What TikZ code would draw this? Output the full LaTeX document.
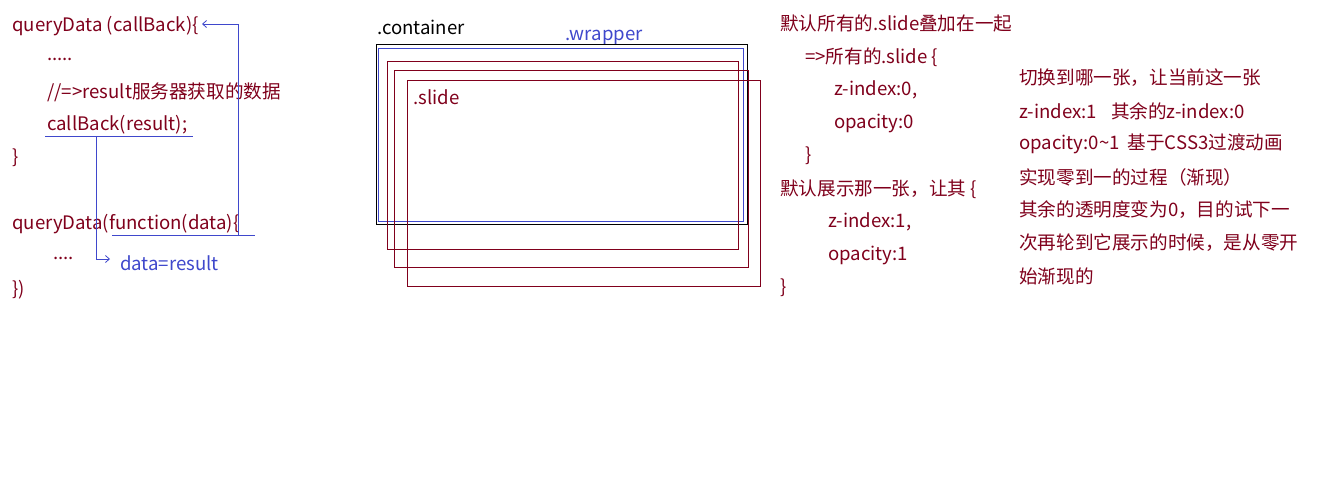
\documentclass[tikz,border=0pt]{standalone}
\usepackage{fontspec}
\setmainfont{Noto Sans CJK SC}
\usetikzlibrary{arrows.meta}
\definecolor{dred}{HTML}{80001C}
\definecolor{cblue}{HTML}{3F48CC}
\tikzset{
  txt/.style={anchor=west,inner sep=0pt,text=dred,font=\fontsize{18.6}{22}\selectfont},
  btxt/.style={txt,text=cblue},
  ktxt/.style={txt,text=black},
  bline/.style={draw=cblue,line width=0.8pt},
  barrow/.style={bline,-{Straight Barb[length=4pt,width=7pt]}},
  redbox/.style={draw=dred,line width=0.9pt},
}
\begin{document}
\begin{tikzpicture}[x=1pt,y=-1pt]
\useasboundingbox[fill=white] (0,0) rectangle (1333,499);
% left column
\node[txt] (q1) at (12,26) {queryData (callBack)\{};
\node[txt] (d1) at (47,59) {.....};
\node[txt] (c1) at (47,92) {//=>result服务器获取的数据};
\node[txt] (cb) at (47,125) {callBack(result);};
\node[txt] (b1) at (12,158) {\}};
\node[txt] (q2) at (12,224) {queryData(function(data)\{};
\node[txt] (d2) at (53,258) {....};
\node[btxt] (dr) at (120,263) {data=result};
\node[txt] (b2) at (12,290) {\})};
% blue connectors
\coordinate (u1a) at (45,136);
\coordinate (u1b) at (193,136);
\coordinate (u2a) at (112,235);
\coordinate (u2b) at (255,235);
\coordinate (v1) at (96.5,136);
\coordinate (v1e) at (110,259);
\coordinate (v2) at (238,235);
\coordinate (v2e) at (202,24);
\draw[bline] (u1a) -- (u1b);
\draw[bline] (u2a) -- (u2b);
\draw[barrow] (v1) |- (v1e);
\draw[barrow] (v2) |- (v2e);
% middle boxes
\node[ktxt] (cont) at (377,27) {.container};
\node[btxt] (wrap) at (565,37) {.wrapper};
\draw[black,line width=0.9pt] (376,44) rectangle (747,224);
\draw[cblue,line width=0.9pt] (378.5,48) rectangle (743,221);
\draw[redbox] (387,61) rectangle (738,249);
\draw[redbox] (394.5,70) rectangle (748,267);
\draw[redbox] (407.5,80.5) rectangle (760,286);
\node[txt] (sl) at (413,97) {.slide};
% right column 1
\node[txt] (r1) at (780,23) {默认所有的.slide叠加在一起};
\node[txt] (r2) at (805,57) {=>所有的.slide \{};
\node[txt] (r3) at (834,90) {z-index:0,};
\node[txt] (r4) at (834,123) {opacity:0};
\node[txt] (r5) at (805,156) {\}};
\node[txt] (r6) at (780,189) {默认展示那一张，让其 \{};
\node[txt] (r7) at (828,222) {z-index:1,};
\node[txt] (r8) at (828,255) {opacity:1};
\node[txt] (r9) at (780,288) {\}};
% right column 2
\node[txt] (s1) at (1019,78) {切换到哪一张，让当前这一张};
\node[txt] (s2) at (1019,111) {z-index:1\hspace{14pt}其余的z-index:0};
\node[txt] (s3) at (1019,144) {opacity:0\textasciitilde1\hspace{8pt}基于CSS3过渡动画};
\node[txt] (s4) at (1019,177) {实现零到一的过程（渐现）};
\node[txt] (s5) at (1019,210) {其余的透明度变为0，目的试下一};
\node[txt] (s6) at (1019,243) {次再轮到它展示的时候，是从零开};
\node[txt] (s7) at (1019,276) {始渐现的};
\end{tikzpicture}
\end{document}
